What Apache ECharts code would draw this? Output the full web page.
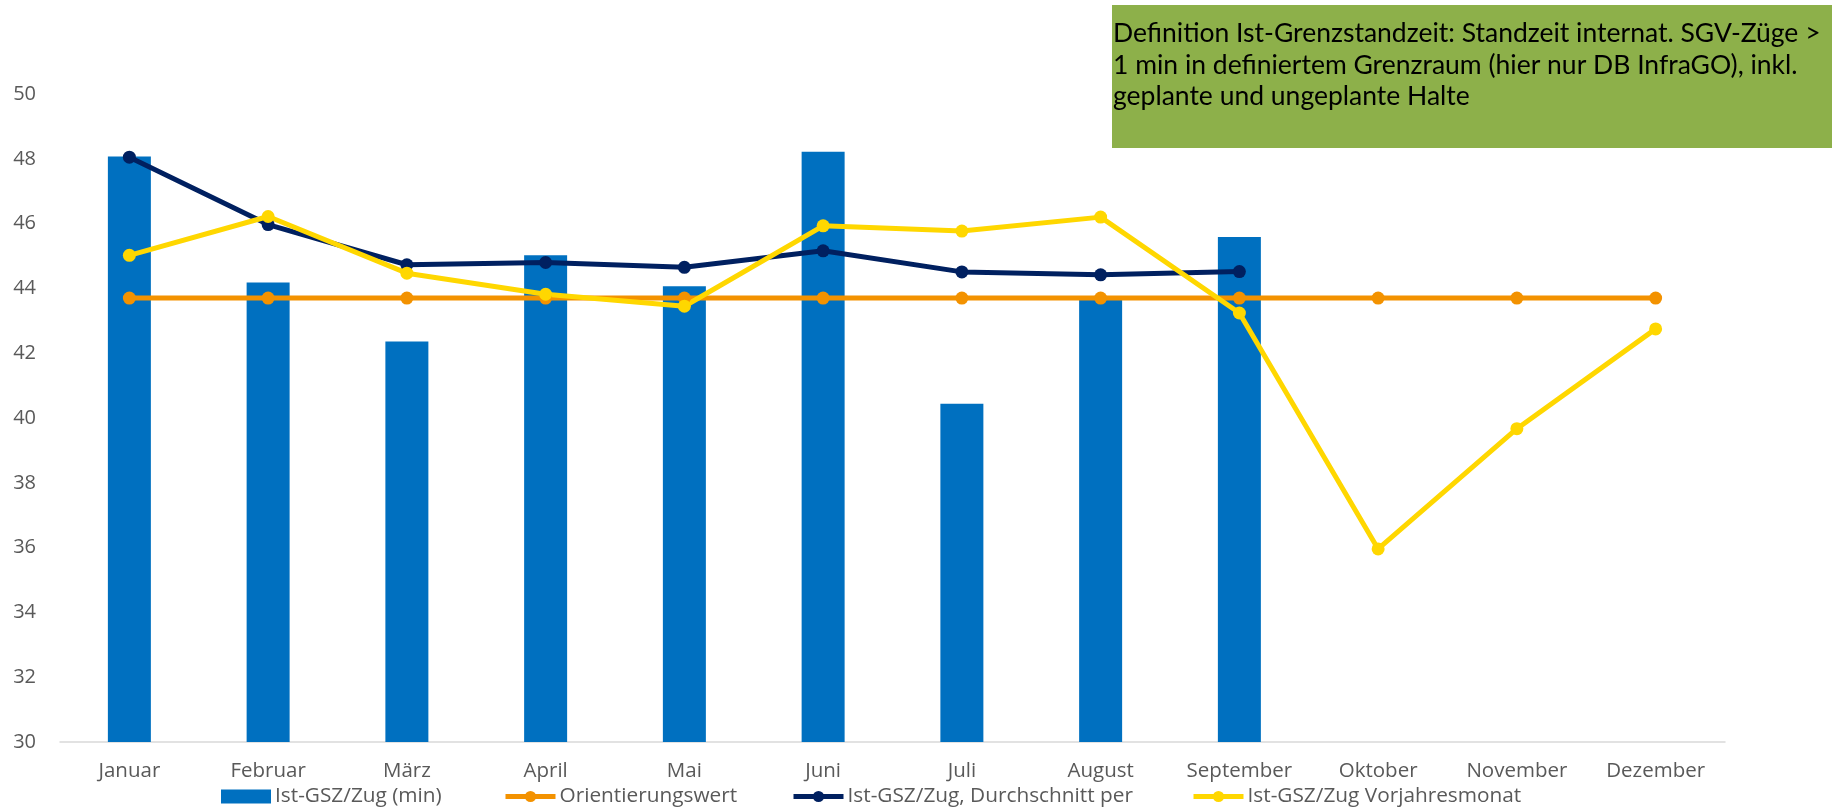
<!DOCTYPE html>
<html>
<head>
<meta charset="utf-8">
<script src="https://cdn.jsdelivr.net/npm/echarts@6/dist/echarts.min.js"></script>
<style>
  html, body { margin: 0; padding: 0; background: #fff; }
  #chart { width: 1848px; height: 812px; }
</style>
</head>
<body>
<div id="chart"></div>
<script>
// Monate
var months = ['Januar', 'Februar', 'März', 'April', 'Mai', 'Juni', 'Juli', 'August', 'September', 'Oktober', 'November', 'Dezember'];
// Ist-GSZ/Zug (min)
var istGsz = [48.07, 44.18, 42.36, 45.02, 44.07, 48.22, 40.44, 43.65, 45.59, null, null, null];
// Orientierungswert
var orientierung = [43.7, 43.7, 43.7, 43.7, 43.7, 43.7, 43.7, 43.7, 43.7, 43.7, 43.7, 43.7];
// Ist-GSZ/Zug, Durchschnitt per
var durchschnitt = [48.05, 45.97, 44.73, 44.8, 44.65, 45.16, 44.51, 44.42, 44.52, null, null, null];
// Ist-GSZ/Zug Vorjahresmonat
var vorjahr = [45.02, 46.22, 44.47, 43.82, 43.45, 45.93, 45.77, 46.2, 43.24, 35.96, 39.67, 42.75];

var yTicks = { min: 30, max: 50, interval: 2 };
var infoText = 'Definition Ist-Grenzstandzeit: Standzeit internat. SGV-Züge >\n1 min in definiertem Grenzraum (hier nur DB InfraGO), inkl.\ngeplante und ungeplante Halte';

var FONT = '"Open Sans", "Noto Sans", sans-serif';
var chart = echarts.init(document.getElementById('chart'));

function legendAt(name, left, icon) {
    var l = {
        data: [name], left: left, top: 786, padding: 0,
        itemWidth: 50, itemHeight: 14, itemGap: 4,
        lineStyle: { width: 5 },
        textStyle: { fontFamily: FONT, fontSize: 20.8, color: '#595959', padding: [0, 0, 0, -1] }
    };
    if (icon) l.icon = icon;
    return l;
}

var option = {
    animation: false,
    backgroundColor: '#fff',
    grid: { left: 60, right: 123, top: 94, bottom: 70, containLabel: false },
    legend: [
        legendAt('Ist-GSZ/Zug (min)', 221, 'rect'),
        legendAt('Orientierungswert', 503),
        legendAt('Ist-GSZ/Zug, Durchschnitt per', 791),
        legendAt('Ist-GSZ/Zug Vorjahresmonat', 1191)
    ],
    xAxis: {
        type: 'category',
        data: months,
        axisTick: { show: false },
        axisLine: { lineStyle: { color: '#d9d9d9', width: 1.5 } },
        axisLabel: { fontFamily: FONT, fontSize: 20.5, color: '#595959', margin: 19 }
    },
    yAxis: {
        type: 'value',
        min: yTicks.min, max: yTicks.max, interval: yTicks.interval,
        splitLine: { show: false },
        axisLine: { show: false },
        axisTick: { show: false },
        axisLabel: { fontFamily: FONT, fontSize: 20, color: '#595959', margin: 24 }
    },
    series: [
        {
            name: 'Ist-GSZ/Zug (min)', type: 'bar', data: istGsz, barWidth: 43,
            itemStyle: { color: '#0070C0' }
        },
        {
            name: 'Orientierungswert', type: 'line', data: orientierung,
            symbol: 'circle', symbolSize: 13,
            lineStyle: { color: '#F39200', width: 5 }, itemStyle: { color: '#F39200' }
        },
        {
            name: 'Ist-GSZ/Zug, Durchschnitt per', type: 'line', data: durchschnitt,
            symbol: 'circle', symbolSize: 13,
            lineStyle: { color: '#002060', width: 5 }, itemStyle: { color: '#002060' }
        },
        {
            name: 'Ist-GSZ/Zug Vorjahresmonat', type: 'line', data: vorjahr,
            symbol: 'circle', symbolSize: 13,
            lineStyle: { color: '#FFD700', width: 5 }, itemStyle: { color: '#FFD700' }
        }
    ],
    graphic: [
        {
            type: 'rect', left: 1112, top: 5, z: 10,
            shape: { width: 720, height: 143 },
            style: { fill: '#8DB04A' }
        },
        {
            type: 'text', left: 1113, top: 18, z: 11,
            style: {
                text: infoText, fill: '#000',
                font: '26.5px Lato, "Open Sans", sans-serif', lineHeight: 31.5
            }
        }
    ]
};
chart.setOption(option);
</script>
</body>
</html>
